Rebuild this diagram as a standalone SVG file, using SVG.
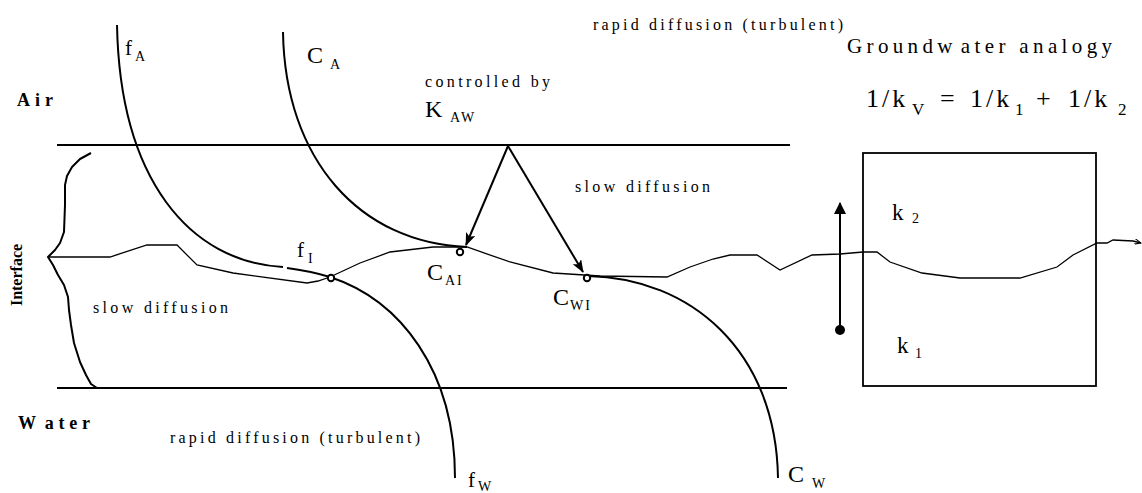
<svg xmlns="http://www.w3.org/2000/svg" width="1142" height="493" viewBox="0 0 1142 493">
<style>
.ln{fill:none;stroke:#000;stroke-width:2}
.thin{fill:none;stroke:#000;stroke-width:1.3}
.t{font-family:"Liberation Serif","Times New Roman",serif;fill:#000}
.sm{font-size:16px}
.b{font-weight:bold}
.big{font-size:24px}
.sub{font-size:14px}
</style>
<defs>
<marker id="ah" markerWidth="14" markerHeight="10" refX="12" refY="5" orient="auto" markerUnits="userSpaceOnUse">
<path d="M0,0 L13,5 L0,10 L3,5 z" fill="#000"/>
</marker>
<marker id="ahv" markerWidth="12" markerHeight="14" refX="11" refY="6" orient="auto" markerUnits="userSpaceOnUse">
<path d="M0,0 L12,6 L0,12 z" fill="#000"/>
</marker>
<marker id="ahs" markerWidth="8" markerHeight="6" refX="7" refY="3" orient="auto" markerUnits="userSpaceOnUse">
<path d="M0,0 L7,3 L0,6" fill="none" stroke="#000" stroke-width="1"/>
</marker>
</defs>
<rect width="1142" height="493" fill="#fff"/>

<g id="layers">
<line class="ln" x1="57" y1="145" x2="790" y2="145"/>
<line class="ln" x1="57" y1="388" x2="787" y2="388"/>
<path class="ln" stroke-linejoin="round" d="M91,153 L80,159 L72,167 L67,176 L65,185 L65,205 L64,232 L60,243 L55,250 L48,257 L53,265 L58,275 L64,285 L68,297 L69,310 L71,325 L74,343 L80,362 L86,375 L91,384 L97,388"/>
<polyline class="thin" marker-end="url(#ahs)" points="48,257 110,257 147,245 177,245 197,265 233,273 307,283 318,281 330,277 345,270 360,263 390,252 433,247 467,247 510,262 553,273 600,276 667,277 690,267 713,259 730,255 757,255 780,270 812,255 840,254 863,252 877,252 890,262 922,273 960,278 1020,278 1057,267 1073,255 1097,243 1107,243 1113,240 1133,241 1141,243"/>
</g>

<g id="curves">
<path class="ln" d="M117,25 C120,180 190,262 283,267"/>
<path class="ln" d="M287,268 Q310,271 330,277"/>
<path class="ln" d="M330,277 C400,300 455,370 455,478"/>
<path class="ln" d="M283,32 C285,160 360,243 467,247"/>
<path class="ln" d="M588,276 C690,278 776,350 778,478"/>
<circle cx="331" cy="278" r="3.2" fill="#fff" stroke="#000" stroke-width="2"/>
<circle cx="460" cy="252" r="3.2" fill="#fff" stroke="#000" stroke-width="2"/>
<circle cx="587" cy="278" r="3.2" fill="#fff" stroke="#000" stroke-width="2"/>
</g>

<g id="connectors">
<line class="ln" x1="508" y1="146" x2="466" y2="245" marker-end="url(#ah)"/>
<line class="ln" x1="508" y1="146" x2="583" y2="272" marker-end="url(#ah)"/>
<line class="ln" x1="840" y1="330" x2="840" y2="203" marker-end="url(#ahv)"/>
<circle cx="840" cy="330" r="5" fill="#000"/>
</g>

<g id="analogy-box">
<rect x="863" y="153" width="233" height="233" fill="none" stroke="#000" stroke-width="1.8"/>
<text class="t" x="892" y="220" font-size="23">k</text><text class="t" x="912" y="223" font-size="14">2</text>
<text class="t" x="897" y="353" font-size="23">k</text><text class="t" x="915" y="358" font-size="14">1</text>
</g>

<g id="labels">
<text class="t b" x="17" y="106" font-size="18" textLength="36">Air</text>
<text class="t b" x="18" y="429" font-size="18" textLength="72"><tspan>W</tspan><tspan dx="5">ater</tspan></text>
<text class="t b" font-size="16" text-anchor="middle" transform="translate(22,275) rotate(-90)">Interface</text>
<text class="t sm" x="593" y="30" textLength="250">rapid diffusion (turbulent)</text>
<text class="t sm" x="170" y="443" textLength="250">rapid diffusion (turbulent)</text>
<text class="t sm" x="425" y="87" textLength="125">controlled by</text>
<text class="t sm" x="575" y="192" textLength="135">slow diffusion</text>
<text class="t sm" x="93" y="313" textLength="135">slow diffusion</text>
<text class="t" x="847" y="53" font-size="21" textLength="265"><tspan>Groundw</tspan><tspan dx="4">ater analogy</tspan></text>
</g>

<g id="symbols">
<text class="t" x="125" y="55" font-size="21">f</text><text class="t sub" x="135" y="61">A</text>
<text class="t big" x="307" y="63">C</text><text class="t sub" x="330" y="69">A</text>
<text class="t big" x="425" y="117">K</text><text class="t" x="450" y="122" font-size="14" letter-spacing="2">AW</text>
<text class="t" x="297" y="257" font-size="21">f</text><text class="t" x="308" y="263" font-size="14">I</text>
<text class="t big" x="427" y="280">C</text><text class="t" x="445" y="285" font-size="14" letter-spacing="2">AI</text>
<text class="t big" x="553" y="305">C</text><text class="t" x="570" y="310" font-size="14" letter-spacing="2">WI</text>
<text class="t" x="468" y="487" font-size="21">f</text><text class="t sub" x="478" y="491">W</text>
<text class="t big" x="788" y="482">C</text><text class="t sub" x="812" y="488">W</text>
</g>

<g id="formula" class="t" font-size="26">
<text x="866" y="107" letter-spacing="3">1/k</text><text x="912" y="115" font-size="17">V</text>
<text x="940" y="107">=</text>
<text x="970" y="107" letter-spacing="3">1/k</text><text x="1015" y="115" font-size="17">1</text>
<text x="1036" y="107">+</text>
<text x="1068" y="107" letter-spacing="3">1/k</text><text x="1118" y="115" font-size="17">2</text>
</g>
</svg>
